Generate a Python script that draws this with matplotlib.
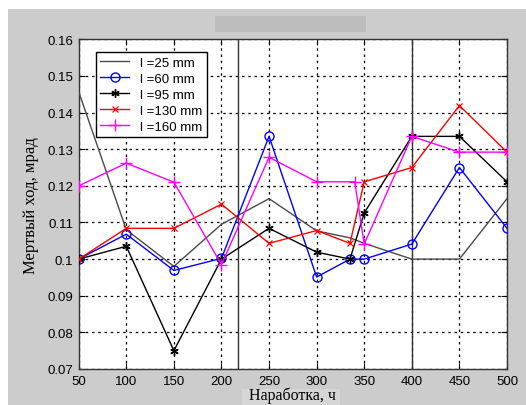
import matplotlib
matplotlib.use("Agg")
import matplotlib.pyplot as plt
from matplotlib.patches import Rectangle

# ---- data ----
x_25 = [50, 100, 150, 200, 250, 300, 335, 350, 400, 450, 500]
y_25 = [0.1457, 0.108, 0.098, 0.1095, 0.1165, 0.1077, 0.1058, 0.1043, 0.100, 0.100, 0.1165]

x_60 = [50, 100, 150, 200, 250, 300, 335, 350, 400, 450, 500]
y_60 = [0.100, 0.1068, 0.0969, 0.1002, 0.1335, 0.0951, 0.100, 0.100, 0.1041, 0.125, 0.1084]

x_95 = [50, 100, 150, 200, 250, 300, 335, 350, 400, 450, 500]
y_95 = [0.100, 0.1035, 0.075, 0.100, 0.1084, 0.1019, 0.100, 0.1126, 0.1335, 0.1335, 0.1211]

x_130 = [50, 100, 150, 200, 250, 300, 335, 350, 400, 450, 500]
y_130 = [0.100, 0.1084, 0.1084, 0.115, 0.1043, 0.1078, 0.1043, 0.1211, 0.125, 0.1419, 0.1292]

x_160 = [50, 100, 150, 200, 250, 300, 340, 350, 400, 450, 500]
y_160 = [0.120, 0.1262, 0.121, 0.0985, 0.1278, 0.1211, 0.1211, 0.1041, 0.1335, 0.1292, 0.1292]

labels = ["l =25 mm", "l =60 mm", "l =95 mm", "l =130 mm", "l =160 mm"]
x_ticks = [50, 100, 150, 200, 250, 300, 350, 400, 450, 500]
y_ticks = [0.07, 0.08, 0.09, 0.10, 0.11, 0.12, 0.13, 0.14, 0.15, 0.16]
y_ticklabels = ["0.07", "0.08", "0.09", "0.1", "0.11", "0.12", "0.13", "0.14", "0.15", "0.16"]
solid_vlines = [217, 400]

# ---- figure ----
W, H = 526, 406
fig = plt.figure(figsize=(W / 100, H / 100), dpi=100)
fig.patch.set_facecolor("white")
# gray panel (white band on top and left)
fig.add_artist(Rectangle((8 / W, 0), 1 - 8 / W, 1 - 10 / H, transform=fig.transFigure,
                         facecolor="#cccccc", edgecolor="none", zorder=-10))
# darker blank title box
fig.add_artist(Rectangle((215 / W, 1 - 33 / H), 151 / W, 16 / H, transform=fig.transFigure,
                         facecolor="#bdbdbd", edgecolor="none", zorder=-9))
# lighter patch behind the x label
fig.add_artist(Rectangle((242 / W, 0), 98 / W, 16 / H, transform=fig.transFigure,
                         facecolor="#d6d6d6", edgecolor="none", zorder=-9))

ax = fig.add_axes([78.7 / W, 36 / H, (507 - 78.7) / W, (370 - 40.3) / H])
ax.set_facecolor("white")

lw = 1.0
ax.plot(x_25, y_25, color="#4a4a4a", lw=lw, label=labels[0], zorder=3)
ax.plot(x_60, y_60, color="#0000ff", lw=lw, marker="o", ms=6.5, mfc="none", mew=1.0,
        label=labels[1], zorder=3)
ax.plot(x_95, y_95, color="black", lw=lw, marker=(6, 2, 0), ms=6, mew=1.0,
        label=labels[2], zorder=3)
ax.plot(x_130, y_130, color="#ff0000", lw=lw, marker="x", ms=5, mew=0.9, label=labels[3], zorder=3)
ax.plot(x_160, y_160, color="#ff00ff", lw=lw, marker="+", ms=8, mew=1.0, label=labels[4], zorder=3)

for xv in solid_vlines:
    ax.axvline(xv, color="#333333", lw=1.0, zorder=2)

ax.set_xlim(50, 500)
ax.set_ylim(0.07, 0.16)
ax.set_xticks(x_ticks)
ax.set_yticks(y_ticks)
ax.set_yticklabels(y_ticklabels)
ax.grid(True, color="black", linestyle=(0, (2.0, 3.0)), lw=0.9)
ax.set_axisbelow(True)
ax.tick_params(direction="in", length=4, top=True, right=True, labelsize=9.5,
               colors="black", pad=4)
for t in ax.get_xticklabels() + ax.get_yticklabels():
    t.set_family("Liberation Sans")
for s in ax.spines.values():
    s.set_color("#333333")
    s.set_linewidth(1.0)

ax.set_ylabel("Мертвый ход, мрад", family="Liberation Serif", fontsize=12, labelpad=6)
ax.set_xlabel("Наработка, ч", family="Liberation Serif", fontsize=11.5, labelpad=0)

leg = ax.legend(loc="upper left", bbox_to_anchor=(0.040, 0.961), borderaxespad=0,
                fancybox=False, framealpha=1, edgecolor="black", handlelength=2.2,
                labelspacing=0.28, borderpad=0.35, handletextpad=0.8,
                prop={"family": "Liberation Sans", "size": 9.5})
leg.get_frame().set_linewidth(1.0)

fig.savefig("out.png", dpi=100, facecolor=fig.get_facecolor())
